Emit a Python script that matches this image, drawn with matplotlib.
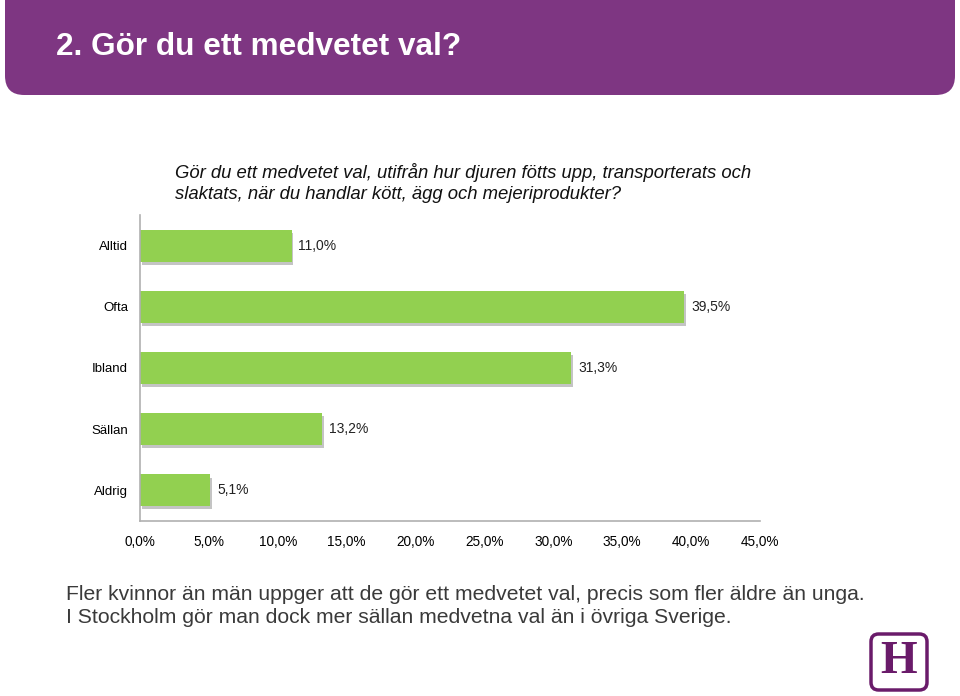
import matplotlib.pyplot as plt
from matplotlib.patches import FancyBboxPatch
import numpy as np

categories = ["Alltid", "Ofta", "Ibland", "Sällan", "Aldrig"]
values = [11.0, 39.5, 31.3, 13.2, 5.1]
xticks = [0, 5, 10, 15, 20, 25, 30, 35, 40, 45]

title = "2. Gör du ett medvetet val?"
chart_title = ("Gör du ett medvetet val, utifrån hur djuren fötts upp, transporterats och\n"
               "slaktats, när du handlar kött, ägg och mejeriprodukter?")
footer = ("Fler kvinnor än män uppger att de gör ett medvetet val, precis som fler äldre än unga.\n"
          "I Stockholm gör man dock mer sällan medvetna val än i övriga Sverige.")

sans = ["Liberation Sans", "DejaVu Sans"]
purple = "#7e3682"
green = "#92d050"

fig = plt.figure(figsize=(9.6, 6.96), dpi=100)
fig.patch.set_facecolor("white")

W, H = 960, 696
def fx(px): return px / W
def fy(py): return 1 - py / H

# header banner (top corners pushed off the page)
banner = FancyBboxPatch((fx(5), fy(95)), fx(950), 125 / H,
                        boxstyle="round,pad=0,rounding_size=0.02",
                        transform=fig.transFigure, facecolor=purple,
                        edgecolor="none", mutation_aspect=W / H)
fig.patches.append(banner)
fig.text(fx(56), fy(47), title, color="white", fontsize=22.7, fontweight="bold",
         family=sans, va="center", ha="left")

# chart
ax = fig.add_axes([fx(140), fy(521), fx(620), (521 - 215) / H])
y = np.arange(len(categories))
ax.barh(y + 0.05, values, height=0.52, left=0.12, color="#c4c4c4", zorder=1)
ax.barh(y, values, height=0.52, color=green, zorder=2)
for yi, v in zip(y, values):
    ax.text(v + 0.5, yi, f"{v:.1f}%".replace(".", ","), va="center", ha="left",
            fontsize=10, family=sans, color="#222222")

ax.set_xlim(0, 45)
ax.set_ylim(4.5, -0.5)
ax.set_yticks(y)
ax.set_yticklabels(categories, fontsize=9.5, family=sans)
ax.set_xticks(xticks)
ax.set_xticklabels([f"{t:.1f}%".replace(".", ",") for t in xticks],
                   fontsize=9.8, family=sans)
ax.tick_params(axis="y", length=0, pad=8.5)
ax.tick_params(axis="x", length=0, pad=10)
for s in ["top", "right"]:
    ax.spines[s].set_visible(False)
for s in ["left", "bottom"]:
    ax.spines[s].set_color("#b0b0b0")
    ax.spines[s].set_linewidth(1.2)

fig.text(fx(175), fy(183), chart_title, fontsize=13.3, style="italic",
         family=sans, va="center", ha="left", linespacing=1.3, color="#111111")

fig.text(fx(66), fy(606), footer, fontsize=15.2, family=sans,
         va="center", ha="left", linespacing=1.3, color="#3a3a3a")

# logo
logo = FancyBboxPatch((fx(871), fy(690)), fx(56), 56 / H,
                      boxstyle="round,pad=0,rounding_size=0.008",
                      transform=fig.transFigure, facecolor="white",
                      edgecolor="#6a1b6a", linewidth=2.5, mutation_aspect=W / H)
fig.patches.append(logo)
fig.text(fx(899), fy(662), "H", fontsize=34, fontweight="bold",
         family=["Liberation Serif", "DejaVu Serif"], color="#6a1b6a",
         ha="center", va="center")

fig.savefig("out.png", dpi=100, facecolor="white")
